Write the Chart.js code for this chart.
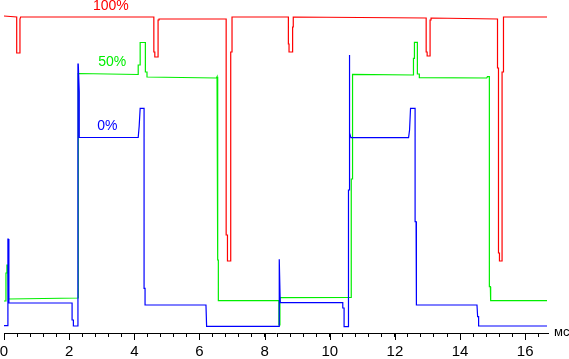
<!DOCTYPE html>
<html>
<head>
<meta charset="utf-8">
<script src="https://cdn.jsdelivr.net/npm/chart.js@4.4.1/dist/chart.umd.min.js"></script>
<style>
  html, body { margin: 0; padding: 0; background: #ffffff; }
  #wrap { width: 569px; height: 359px; position: relative; }
</style>
</head>
<body>
<div id="wrap"><canvas id="c" width="569" height="359"></canvas></div>
<script>
// ---- Data (time in ms, brightness in arbitrary units) ----
const redX = [0, 0.39, 0.39, 0.49, 0.49, 0.51, 4.60, 4.60, 4.63, 4.63, 4.73, 4.73, 4.76, 4.76, 6.82, 6.82, 6.86, 6.86, 6.96, 6.96, 7.00, 7.00, 8.73, 8.73, 8.75, 8.75, 8.86, 8.86, 8.88, 8.88, 12.96, 12.96, 12.99, 12.99, 13.08, 13.08, 13.11, 13.11, 15.15, 15.15, 15.18, 15.18, 15.21, 15.21, 15.29, 15.29, 15.32, 15.32, 15.34, 15.34, 16.67];
const redY = [317, 316, 280, 280, 314, 316, 316, 281, 281, 276, 276, 313, 313, 314, 314, 98, 98, 72, 72, 281, 281, 316, 316, 289, 289, 281, 281, 306, 306, 316, 315, 281, 281, 277, 277, 313, 313, 315, 314, 265, 265, 80, 80, 72, 72, 261, 261, 313, 313, 316, 316];

const greenX = [0, 0.06, 0.06, 0.09, 0.09, 0.12, 0.14, 2.28, 2.28, 4.12, 4.12, 4.18, 4.18, 4.34, 4.34, 4.39, 4.39, 6.52, 6.54, 6.56, 6.56, 6.58, 6.58, 8.44, 8.44, 8.47, 8.47, 10.66, 10.66, 10.69, 10.69, 10.71, 12.57, 12.57, 12.60, 12.60, 12.69, 12.69, 12.75, 12.75, 14.82, 14.84, 14.90, 14.90, 14.93, 14.93, 14.95, 16.67];
const greenY = [32, 32, 60, 60, 68, 68, 34, 35, 259.5, 258.5, 268, 268, 290.5, 290.5, 261, 261, 256, 255, 256.3, 256.3, 73, 73, 32.3, 32.5, 8, 8, 35.3, 35.5, 154, 154, 255.7, 258.7, 258, 274.7, 274.7, 290.7, 290.7, 259, 259, 255.3, 255, 256.3, 256.3, 46.3, 46.3, 33, 32.3, 32.3];

const blueX = [0, 0.12, 0.12, 0.13, 0.15, 0.15, 2.09, 2.09, 2.13, 2.13, 2.27, 2.27, 2.28, 2.31, 2.31, 4.12, 4.15, 4.18, 4.30, 4.30, 4.33, 4.33, 6.20, 6.22, 8.45, 8.45, 8.48, 10.40, 10.40, 10.44, 10.44, 10.575, 10.575, 10.605, 10.605, 10.61, 10.65, 12.42, 12.45, 12.48, 12.62, 12.62, 12.65, 12.65, 12.67, 14.52, 14.54, 14.57, 14.57, 16.67];
const blueY = [7.3, 7.3, 94, 94, 72.3, 30, 30, 13, 13, 7, 7, 269, 269, 241, 195.5, 195.5, 207, 224.7, 224.7, 44.7, 44.7, 28, 28, 6.7, 6.7, 73.7, 30.3, 30.3, 25, 25, 6.3, 6.3, 143, 143, 278, 200, 195.3, 195.3, 203, 224.7, 224.7, 111.3, 111.3, 29.7, 28, 28, 16.3, 16.3, 7, 7];

const xTickLabels = ['0', '2', '4', '6', '8', '10', '12', '14', '16'];
const seriesNames = ['100%', '50%', '0%'];
const unitLabel = 'мс';

// ---- Build points ----
function pts(xs, ys) { return xs.map((x, i) => ({ x: x, y: ys[i] })); }

const FONT = "'Liberation Sans', Arial, sans-serif";

// label anchors in data coordinates
const labelAnchors = [
  { text: seriesNames[0], x: 2.73, y: 323, color: '#ff0000' },
  { text: seriesNames[1], x: 2.89, y: 267, color: '#00ee00' },
  { text: seriesNames[2], x: 2.86, y: 203, color: '#0000ff' }
];

const decorPlugin = {
  id: 'decor',
  afterDraw(chart) {
    const ctx = chart.ctx;
    const xs = chart.scales.x, ys = chart.scales.y;
    const axisY = chart.chartArea.bottom;
    ctx.save();
    ctx.strokeStyle = '#000';
    ctx.lineWidth = 1;
    xTickLabels.forEach(t => {
      const px = Math.round(xs.getPixelForValue(parseFloat(t))) + 0.5;
      ctx.beginPath();
      ctx.moveTo(px, axisY);
      ctx.lineTo(px, axisY + 7);
      ctx.stroke();
    });
    ctx.fillStyle = '#000';
    ctx.font = '13px ' + FONT;
    ctx.textAlign = 'left';
    ctx.textBaseline = 'alphabetic';
    ctx.fillText(unitLabel, chart.chartArea.right + 6, axisY + 3);
    ctx.font = '14px ' + FONT;
    labelAnchors.forEach(l => {
      ctx.fillStyle = l.color;
      ctx.fillText(l.text, xs.getPixelForValue(l.x), ys.getPixelForValue(l.y));
    });
    ctx.restore();
  }
};

new Chart(document.getElementById('c'), {
  type: 'line',
  data: {
    datasets: [
      { label: seriesNames[2], data: pts(blueX, blueY), borderColor: '#0000ff' },
      { label: seriesNames[1], data: pts(greenX, greenY), borderColor: '#00ee00' },
      { label: seriesNames[0], data: pts(redX, redY), borderColor: '#ff0000' }
    ].map(d => Object.assign(d, { borderWidth: 1.2, pointRadius: 0, tension: 0, fill: false, clip: false }))
  },
  options: {
    responsive: false,
    animation: false,
    layout: { padding: { left: 4, right: 21, top: 0, bottom: 0 } },
    plugins: { legend: { display: false }, tooltip: { enabled: false } },
    scales: {
      x: {
        type: 'linear',
        min: 0,
        max: 16.7,
        afterFit(scale) { scale.height = 26; scale.paddingLeft = 0; scale.paddingRight = 0; },
        border: { display: true, color: '#000', width: 1 },
        grid: { drawOnChartArea: false, drawTicks: true, tickLength: 4, tickColor: '#000', color: '#000' },
        ticks: {
          stepSize: 0.4,
          autoSkip: false,
          maxRotation: 0,
          includeBounds: false,
          padding: 6,
          color: '#000',
          font: { family: FONT, size: 15 },
          callback(v) {
            const r = Math.round(v);
            return (Math.abs(v - r) < 1e-6 && xTickLabels.includes(String(r))) ? String(r) : '';
          }
        }
      },
      y: { type: 'linear', min: 0, max: 333, display: false }
    }
  },
  plugins: [decorPlugin]
});
</script>
</body>
</html>
